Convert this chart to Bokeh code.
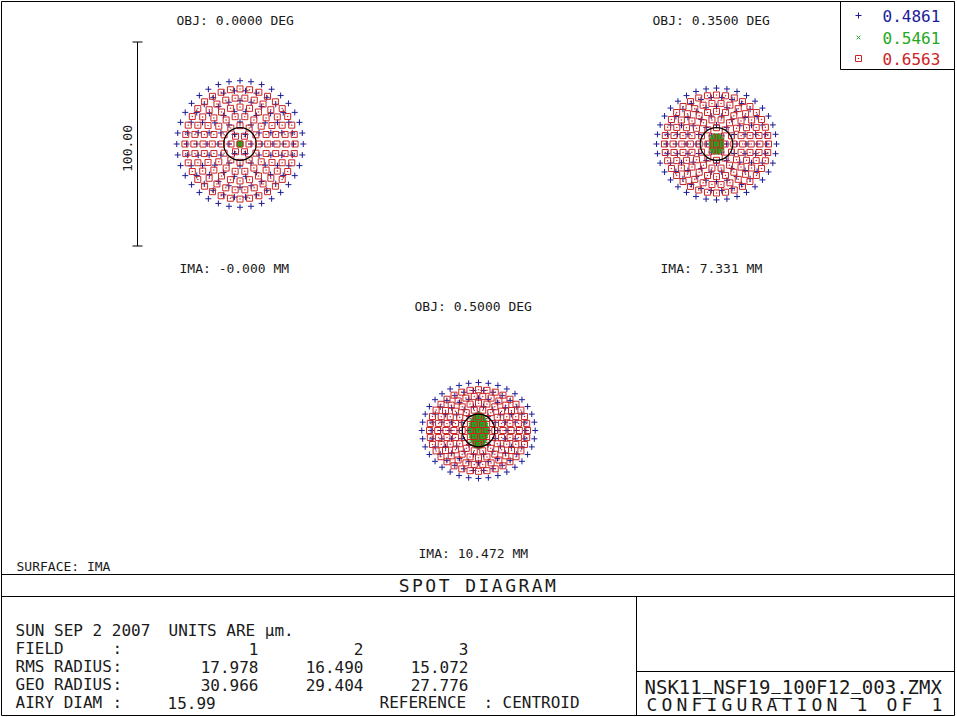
import numpy as np
from bokeh.plotting import figure
from bokeh.models import Range1d, Label
from bokeh.core.properties import value
from bokeh.embed import file_html
from bokeh.resources import INLINE

# ---------------- data (micrometres) ----------------
WAVELENGTHS = ["0.4861", "0.5461", "0.6563"]
FIELD_OBJ = ["OBJ: 0.0000 DEG", "OBJ: 0.3500 DEG", "OBJ: 0.5000 DEG"]
FIELD_IMA = ["IMA: -0.000 MM", "IMA: 7.331 MM", "IMA: 10.472 MM"]
RMS_RADIUS = ["17.978", "16.490", "15.072"]
GEO_RADIUS = ["30.966", "29.404", "27.776"]
AIRY_DIAM = 15.99
SCALE_BAR_UM = 100.0
FILE_NAME = "NSK11_NSF19_100F12_003.ZMX"

# ring radii (hexapolar rings 1..6), x and y semi-axes
F1_BLUE_RX = [5.4, 10.8, 16.1, 21.2, 26.2, 31.0]
F1_BLUE_RY = [5.4, 10.8, 16.1, 21.2, 26.2, 31.0]
F1_GREEN_RX = [0.1, 0.2, 0.3, 0.4, 0.5, 0.6]
F1_GREEN_RY = [0.1, 0.2, 0.3, 0.4, 0.5, 0.6]
F1_RED_RX = [4.4, 9.0, 13.6, 18.1, 22.6, 27.0]
F1_RED_RY = [4.4, 9.0, 13.6, 18.1, 22.6, 27.0]

F2_BLUE_RX = [5.0, 10.0, 14.9, 19.8, 24.6, 29.4]
F2_BLUE_RY = [4.6, 9.3, 13.9, 18.4, 22.9, 27.4]
F2_GREEN_RX = [0.5, 1.0, 1.5, 2.0, 2.4, 2.7]
F2_GREEN_RY = [0.8, 1.6, 2.4, 3.1, 3.7, 4.2]
F2_RED_RX = [4.2, 8.5, 12.8, 17.0, 21.3, 25.5]
F2_RED_RY = [4.0, 8.0, 12.0, 16.0, 20.0, 24.0]

F3_BLUE_RX = [4.7, 9.4, 14.0, 18.6, 23.2, 27.8]
F3_BLUE_RY = [4.0, 8.0, 11.9, 15.8, 19.7, 23.5]
F3_GREEN_RX = [0.7, 1.4, 2.1, 2.8, 3.4, 4.0]
F3_GREEN_RY = [1.4, 2.8, 4.2, 5.5, 6.8, 8.0]
F3_RED_RX = [4.0, 8.0, 12.0, 16.0, 20.0, 24.0]
F3_RED_RY = [3.4, 6.8, 10.1, 13.4, 16.7, 20.0]

# ---------------- layout ----------------
W, H = 957, 717
PX_PER_UM = 2.04
CENTERS = [(239.5, 143.5), (716.0, 143.5), (478.0, 430.0)]
BLUE, GREEN, RED = "#1c1c98", "#22a822", "#cc2424"
FONT_NAME = "DejaVu Sans Mono"
FONT = value(FONT_NAME)
INK = "#1a1a1a"

p = figure(width=W, height=H, x_range=Range1d(0, W), y_range=Range1d(H, 0),
           output_backend="svg", toolbar_location=None, min_border=0,
           x_axis_type=None, y_axis_type=None)
p.grid.visible = False
p.outline_line_color = None
p.background_fill_color = "white"
p.border_fill_color = "white"


def spot_points(rx, ry):
    xs, ys = [0.0], [0.0]
    for k, (a, b) in enumerate(zip(rx, ry), start=1):
        n = 6 * k
        t = 2 * np.pi * np.arange(n) / n
        xs.extend(a * np.cos(t))
        ys.extend(b * np.sin(t))
    return xs, ys


fields = [
    (F1_BLUE_RX, F1_BLUE_RY, F1_GREEN_RX, F1_GREEN_RY, F1_RED_RX, F1_RED_RY),
    (F2_BLUE_RX, F2_BLUE_RY, F2_GREEN_RX, F2_GREEN_RY, F2_RED_RX, F2_RED_RY),
    (F3_BLUE_RX, F3_BLUE_RY, F3_GREEN_RX, F3_GREEN_RY, F3_RED_RX, F3_RED_RY),
]

for i, ((cx, cy), f) in enumerate(zip(CENTERS, fields)):
    xn, yn = "fx%d" % i, "fy%d" % i
    p.extra_x_ranges[xn] = Range1d(-cx / PX_PER_UM, (W - cx) / PX_PER_UM)
    p.extra_y_ranges[yn] = Range1d((cy - H) / PX_PER_UM, cy / PX_PER_UM)
    bx, by = spot_points(f[0], f[1])
    gx, gy = spot_points(f[2], f[3])
    rx_, ry_ = spot_points(f[4], f[5])
    p.scatter(bx, by, marker="cross", size=6, line_color=BLUE, line_width=1,
              x_range_name=xn, y_range_name=yn)
    p.scatter(gx, gy, marker="x", size=5, line_color=GREEN, line_width=1.5,
              x_range_name=xn, y_range_name=yn)
    p.scatter(rx_, ry_, marker="square_dot", size=6, line_color=RED,
              fill_color=None, line_width=1, x_range_name=xn, y_range_name=yn)
    p.ellipse(x=0, y=0, width=AIRY_DIAM, height=AIRY_DIAM, fill_color=None,
              line_color="black", line_width=1.2,
              x_range_name=xn, y_range_name=yn)
    if i == 0:
        bar_x = (137 - cx) / PX_PER_UM
        tick = 5 / PX_PER_UM
        half = SCALE_BAR_UM / 2
        p.segment(x0=[bar_x, bar_x - tick, bar_x - tick],
                  y0=[-half, half, -half],
                  x1=[bar_x, bar_x + tick, bar_x + tick],
                  y1=[half, half, -half],
                  line_color="black", line_width=1,
                  x_range_name=xn, y_range_name=yn)

# scale bar label
p.text(x=[127], y=[148], text=["%.2f" % SCALE_BAR_UM], angle=np.pi / 2,
       text_font=FONT, text_font_size="13px", text_align="center",
       text_baseline="middle", text_color=INK)

# field labels
p.text(x=[176, 652, 414], y=[20, 20, 306], text=FIELD_OBJ, text_font=FONT,
       text_font_size="13px", text_baseline="middle", text_color=INK)
p.text(x=[179, 660, 418], y=[268, 268, 553], text=FIELD_IMA, text_font=FONT,
       text_font_size="13px", text_baseline="middle", text_color=INK)
p.text(x=[16], y=[566], text=["SURFACE: IMA"], text_font=FONT,
       text_font_size="13px", text_baseline="middle", text_color=INK)

# legend
p.scatter([858], [15], marker="cross", size=6, line_color=BLUE)
p.scatter([858], [37], marker="x", size=5, line_color=GREEN)
p.scatter([858], [58], marker="square_dot", size=6, line_color=RED, fill_color=None)
p.text(x=[882, 882, 882], y=[15, 37, 58], text=WAVELENGTHS,
       text_color=[BLUE, GREEN, RED], text_font=FONT, text_font_size="16px",
       text_baseline="middle")

# frame lines
LX0 = [1, 1, 954, 1, 1, 1, 636, 636, 840, 840]
LY0 = [1, 715, 1, 1, 574, 596, 596, 671, 1, 69]
LX1 = [954, 954, 954, 1, 954, 954, 636, 954, 840, 954]
LY1 = [1, 715, 715, 715, 574, 596, 715, 671, 69, 69]
p.segment(x0=LX0, y0=LY0, x1=LX1, y1=LY1, line_color="black", line_width=1)


def spaced(s, x0, pitch, y, size, baseline="middle"):
    xs = [x0 + pitch * (j + 0.5) for j in range(len(s))]
    p.text(x=xs, y=[y] * len(s), text=list(s), text_font=FONT,
           text_font_size=size, text_align="center", text_baseline=baseline,
           text_color=INK)


spaced("SPOT DIAGRAM", 397, 13.3, 585, "18px")

# bottom-left block
BL = dict(text_font=FONT, text_font_size="16px", text_baseline="middle",
          text_color=INK)
p.text(x=[15, 168], y=[630, 630], text=["SUN SEP 2 2007", "UNITS ARE \u00b5m."], **BL)
p.text(x=[15] * 4, y=[648, 666, 684, 702],
       text=["FIELD", "RMS RADIUS", "GEO RADIUS", "AIRY DIAM"], **BL)
p.text(x=[112] * 4, y=[648, 666, 684, 702], text=[":"] * 4, **BL)
p.text(x=[258, 363, 468], y=[648] * 3, text=["1", "2", "3"], text_align="right", **BL)
p.text(x=[258, 363, 468], y=[666] * 3, text=RMS_RADIUS, text_align="right", **BL)
p.text(x=[258, 363, 468], y=[684] * 3, text=GEO_RADIUS, text_align="right", **BL)
p.text(x=[167, 379, 483, 502], y=[702] * 4,
       text=["%.2f" % AIRY_DIAM, "REFERENCE", ":", "CENTROID"], **BL)

# bottom-right block
FN_X, FN_PITCH = 644, 11.44
p.add_layout(Label(x=FN_X, y=686, text=FILE_NAME,
                   text_font=FONT_NAME, text_font_size="19px",
                   text_baseline="middle", text_color=INK,
                   x_units="data", y_units="data"))
# underscores of the file name drawn as strokes (the glyph does not show)
us = [j for j, ch in enumerate(FILE_NAME) if ch == "_"]
p.segment(x0=[FN_X + FN_PITCH * j + 1 for j in us], y0=[693] * len(us),
          x1=[FN_X + FN_PITCH * (j + 1) - 1 for j in us], y1=[693] * len(us),
          line_color=INK, line_width=1)
spaced("CONFIGURATION 1 OF 1", 644, 15.0, 704, "18px")

open("out.html", "w").write(file_html(p, INLINE))
